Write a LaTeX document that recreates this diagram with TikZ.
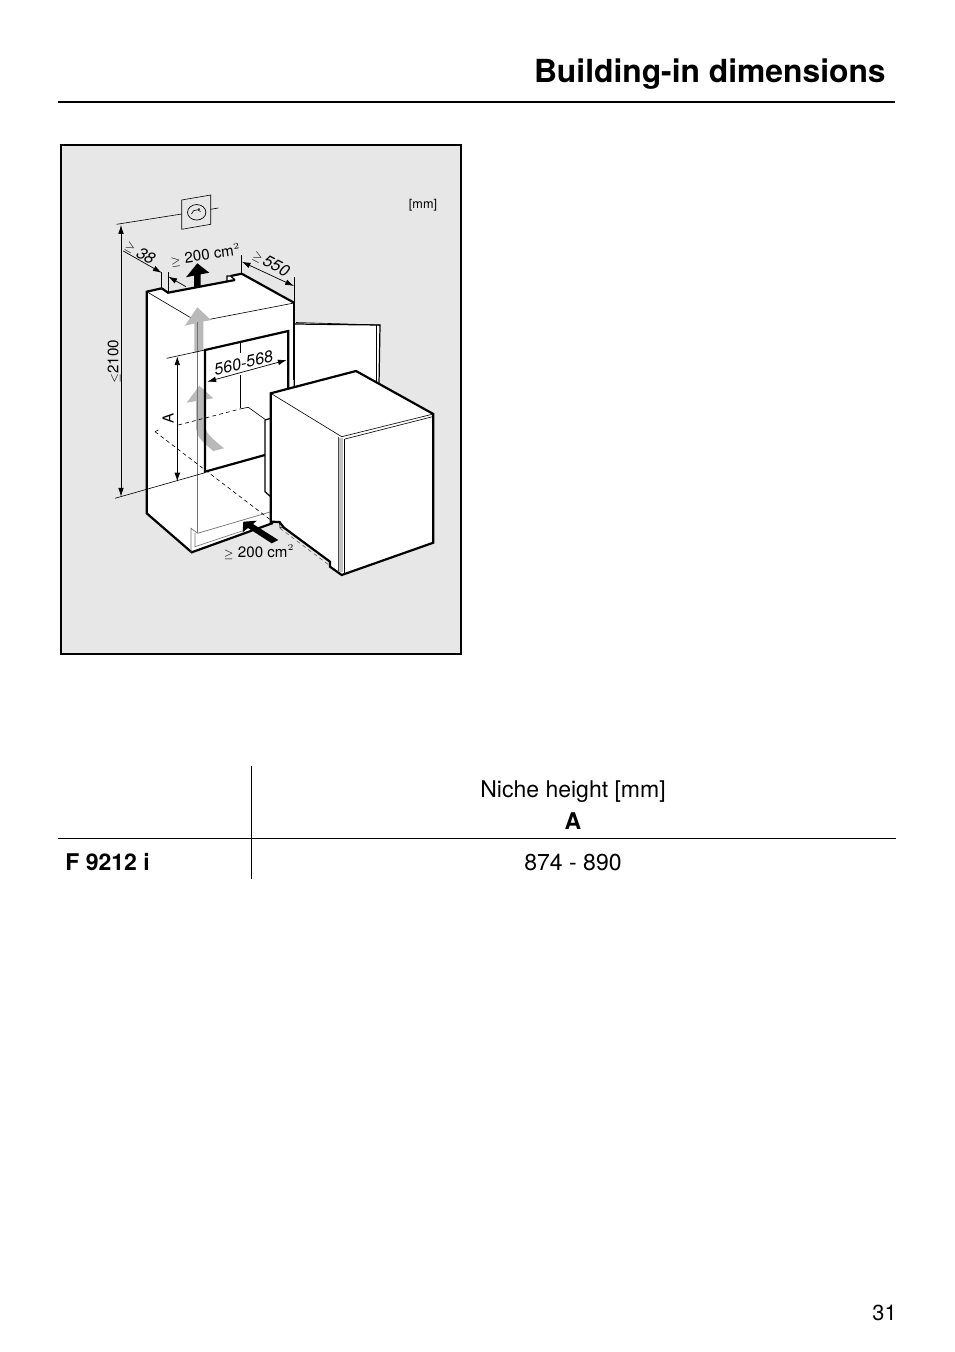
\documentclass[tikz,border=0pt]{standalone}
\usepackage{fontspec}
\setmainfont{TeX Gyre Heros}
\usepackage{amsmath, amssymb}
\usetikzlibrary{arrows.meta, positioning, shapes.geometric}
\definecolor{panelgrey}{RGB}{231, 231, 231}
\definecolor{airgrey}{RGB}{185, 185, 185}
\definecolor{stripgrey}{RGB}{195, 195, 195}

\begin{document}
\begin{tikzpicture}[
  x=0.02cm, y=-0.02cm,
  heavy/.style={line width=1.25pt, line join=miter},
  medium/.style={line width=0.7pt},
  fine/.style={line width=0.35pt},
  greyline/.style={line width=0.4pt, draw=black!55},
  dimline/.style={line width=0.4pt, {Latex[length=5pt,width=3.2pt]}-{Latex[length=5pt,width=3.2pt]}},
  pointer/.style={line width=0.4pt, -{Latex[length=5pt,width=3.2pt]}},
  dashline/.style={line width=0.35pt, dash pattern=on 2.2pt off 1.8pt},
  dimtext/.style={font=\fontsize{8.6}{10}\selectfont, inner sep=0pt},
  slanttext/.style={font=\fontsize{9.3}{10}\selectfont\itshape, inner sep=0pt},
  pagetext/.style={font=\fontsize{13.1}{15}\selectfont, inner sep=0pt, anchor=base}
]
  \useasboundingbox (0,0) rectangle (954,1352);

  \node[font=\fontsize{18.1}{22}\selectfont\bfseries, inner sep=0pt, anchor=base east] (title) at (886,82.5) {Building-in dimensions};
  \coordinate (ruleL) at (58,102);
  \coordinate (ruleR) at (895,102);
  \draw[line width=1.1pt] (ruleL) -- (ruleR);

  \draw[line width=1.1pt, fill=panelgrey] (61,145) rectangle (461,654);

  % niche
  \fill[white] (146.7,291.7) -- (161.7,288.3) -- (168,292.7) -- (227,281) -- (227,276) -- (241.7,273.7) -- (294,302.7) -- (294,390) -- (270,400) -- (270,523) -- (191.7,552.3) -- (146.7,513.3) -- cycle;
  \draw[heavy] (161.7,288.3) -- (146.7,291.7) -- (146.7,513.3) -- (191.7,552.3) -- (273,523);
  \draw[heavy] (161.7,288.3) -- (168,292.7) -- (235,280);
  \draw[medium] (235,280) -- (230.7,276) -- (227,276) -- (227,281);
  \draw[heavy] (230.7,276) -- (241.7,273.7) -- (294,302.7);
  \draw[medium] (294,302.7) -- (294,380);
  \draw[fine] (146.7,291.7) -- (197.5,321.7) -- (294,303);
  \draw[greyline] (197.6,533.3) -- (270,512);
  \draw[greyline] (197.6,533.3) -- (191,528.3) -- (191,552.3);
  \draw[greyline] (195,533) -- (195,546.7) -- (243,530.7);

  % flow arrows
  \fill[airgrey] (197.3,307.3) -- (211,320) -- (203.3,321.5) -- (203.3,350) -- (194.3,353.3) -- (194.3,323.5) -- (185,325.7) -- cycle;
  \fill[airgrey] (199.3,385.7) -- (213.3,398.3) -- (205,399.6) -- (205,425) .. controls (205,432) and (209,436) .. (224,448.3) -- (213.3,451) .. controls (200,440) and (196,436) .. (196,425) -- (196,401) -- (186.7,402.7) -- cycle;
  \draw[greyline] (197.6,321.7) -- (197.6,533.3);

  % opening
  \draw[heavy] (288.3,388) -- (288.3,331) -- (205,350) -- (205,471.7) -- (265,455);
  \draw[fine] (240.7,343) -- (240.7,353);
  \draw[fine] (240.7,375) -- (240.7,408);
  \draw[fine] (240.7,408.8) -- (248.3,407.3) -- (265,419.3);
  \draw[dashline] (178.3,425) -- (240.7,408.8);
  \draw[dashline] (155,431.7) -- (159,429.5);
  \draw[dashline] (155,431.7) -- (272,521);
  \draw[dashline, draw=black!60] (280,528.3) -- (341,574);

  % door
  \draw[medium, fill=white] (294.3,388) -- (294.3,324) -- (380,325) -- (379,385);
  \draw[fine] (296,322.5) -- (380,325);
  \draw[fine] (376,325) -- (376,382);
  \draw[medium] (265,420) -- (270.7,418.3);
  \draw[medium] (265,420) -- (265,491.7) -- (270.7,496.7);

  % appliance
  \draw[heavy, fill=white] (270.7,393.3) -- (356,371) -- (433.3,414) -- (433.3,542.7) -- (341.7,575) -- (330,566.7) -- (330,561.7) -- (284,527.7) -- (279.5,522) -- (270.7,521.7) -- cycle;
  \draw[fine] (270.7,393.3) -- (341.7,436.7) -- (433.3,414);
  \draw[fine] (345,439) -- (433.3,416.5);
  \fill[stripgrey] (339,438) rectangle (343,572);
  \draw[medium, draw=black!70] (338.7,437) -- (338.7,572);
  \draw[medium] (344.5,439) -- (344.5,574);
  \draw[fine] (279.5,522) -- (280,527.7) -- (284,527.7);

  % inlet and outlet
  \fill (197.3,263.3) -- (209.3,272.7) -- (200.7,274.3) -- (200.7,287) -- (194,288.3) -- (194,275.6) -- (186,277.3) -- cycle;
  \fill (243.3,521.7) -- (256.7,520.7) -- (253,524) -- (278.3,540) -- (271.7,543.3) -- (248,528) -- (242.7,532.3) -- cycle;

  % socket
  \draw[fine] (181.7,200) -- (210.7,195) -- (210.7,224.3) -- (181.7,229.3) -- cycle;
  \node[draw, ellipse, line width=0.4pt, minimum width=14\pgflinewidth, minimum height=0.31cm, inner sep=0pt, text width=0.26cm] (socket) at (196.7,212.3) {};
  \fill (199,209) circle (1);
  \draw[fine] (191.5,214) arc[start angle=190, end angle=320, radius=5.2];
  \coordinate (socketR) at (210.7,209.3);
  \coordinate (socketRend) at (218.3,208);
  \coordinate (socketL) at (181.7,214);
  \coordinate (topext) at (116.7,224.3);
  \draw[fine] (socketR) -- (socketRend);
  \draw[fine] (socketL) -- (topext);

  % dimensions
  \coordinate (floorext) at (115,498.3);
  \coordinate (floorend) at (205,472.7);
  \draw[fine] (floorext) -- (floorend);
  \coordinate (hightop) at (121,225);
  \coordinate (highbot) at (121,496.6);
  \draw[dimline] (hightop) -- (highbot);

  \coordinate (aext) at (166.7,358.3);
  \coordinate (aend) at (205,350);
  \coordinate (atop) at (177.3,356.3);
  \coordinate (abot) at (177.3,481.5);
  \draw[fine] (aext) -- (aend);
  \draw[dimline] (atop) -- (abot);

  \coordinate (widthL) at (207.3,381.7);
  \coordinate (widthR) at (286.7,360);
  \draw[dimline] (widthL) -- (widthR);

  \coordinate (gapfar) at (123.3,251);
  \coordinate (gapA) at (161.7,272.8);
  \coordinate (gapB) at (168.3,276.6);
  \coordinate (gapend) at (186,286.7);
  \draw[pointer] (gapfar) -- (gapA);
  \draw[pointer] (gapend) -- (gapB);
  \draw[fine] (161.7,272) -- (161.7,288.3);
  \draw[fine] (168.3,272) -- (168.3,292.7);

  \coordinate (depthA) at (241.7,261.7);
  \coordinate (depthB) at (294,286);
  \draw[dimline] (depthA) -- (depthB);
  \draw[fine] (241.7,255) -- (241.7,273.7);
  \draw[fine] (294,277) -- (294,302.7);

  % labels
  \node[slanttext, rotate=13] (widthlab) at (243.5,363) {560-568};
  \node[slanttext, rotate=-30] (gapnum) at (146,255.7) {38};
  \node[dimtext, rotate=-30] (gapsign) at (130,247.5) {$\scriptstyle\geq$};
  \node[slanttext, rotate=-27] (depthnum) at (276.5,266) {550};
  \node[dimtext, rotate=-27] (depthsign) at (257.5,257.5) {$\scriptstyle\geq$};
  \node[dimtext, rotate=8] (toplab) at (205.5,255) {$\scriptstyle\geq$ 200 cm$^{\scriptscriptstyle 2}$};
  \node[dimtext] (botlab) at (259,552) {$\scriptstyle\geq$ 200 cm$^{\scriptscriptstyle 2}$};
  \node[dimtext, rotate=90] (highlab) at (114,362) {$\scriptstyle\leq$2100};
  \node[dimtext, rotate=90] (alab) at (168,418) {A};
  \node[font=\fontsize{7.2}{8}\selectfont, inner sep=0pt] (unit) at (423,205) {[mm]};

  % table
  \coordinate (colT) at (251,766);
  \coordinate (colB) at (251,879);
  \coordinate (rowL) at (58,838);
  \coordinate (rowR) at (896,838);
  \draw[line width=0.45pt] (colT) -- (colB);
  \draw[line width=0.45pt] (rowL) -- (rowR);
  \node[pagetext] (nicheh) at (573,797) {Niche height [mm]};
  \node[pagetext, font=\fontsize{13.1}{15}\selectfont\bfseries] (colA) at (573,829) {A};
  \node[pagetext, font=\fontsize{13.1}{15}\selectfont\bfseries, anchor=base west] (model) at (65,870) {F 9212 i};
  \node[pagetext] (range) at (573,870) {874 - 890};
  \node[font=\fontsize{12.4}{14}\selectfont, inner sep=0pt, anchor=base east] (pageno) at (897,1320) {31};
\end{tikzpicture}
\end{document}
